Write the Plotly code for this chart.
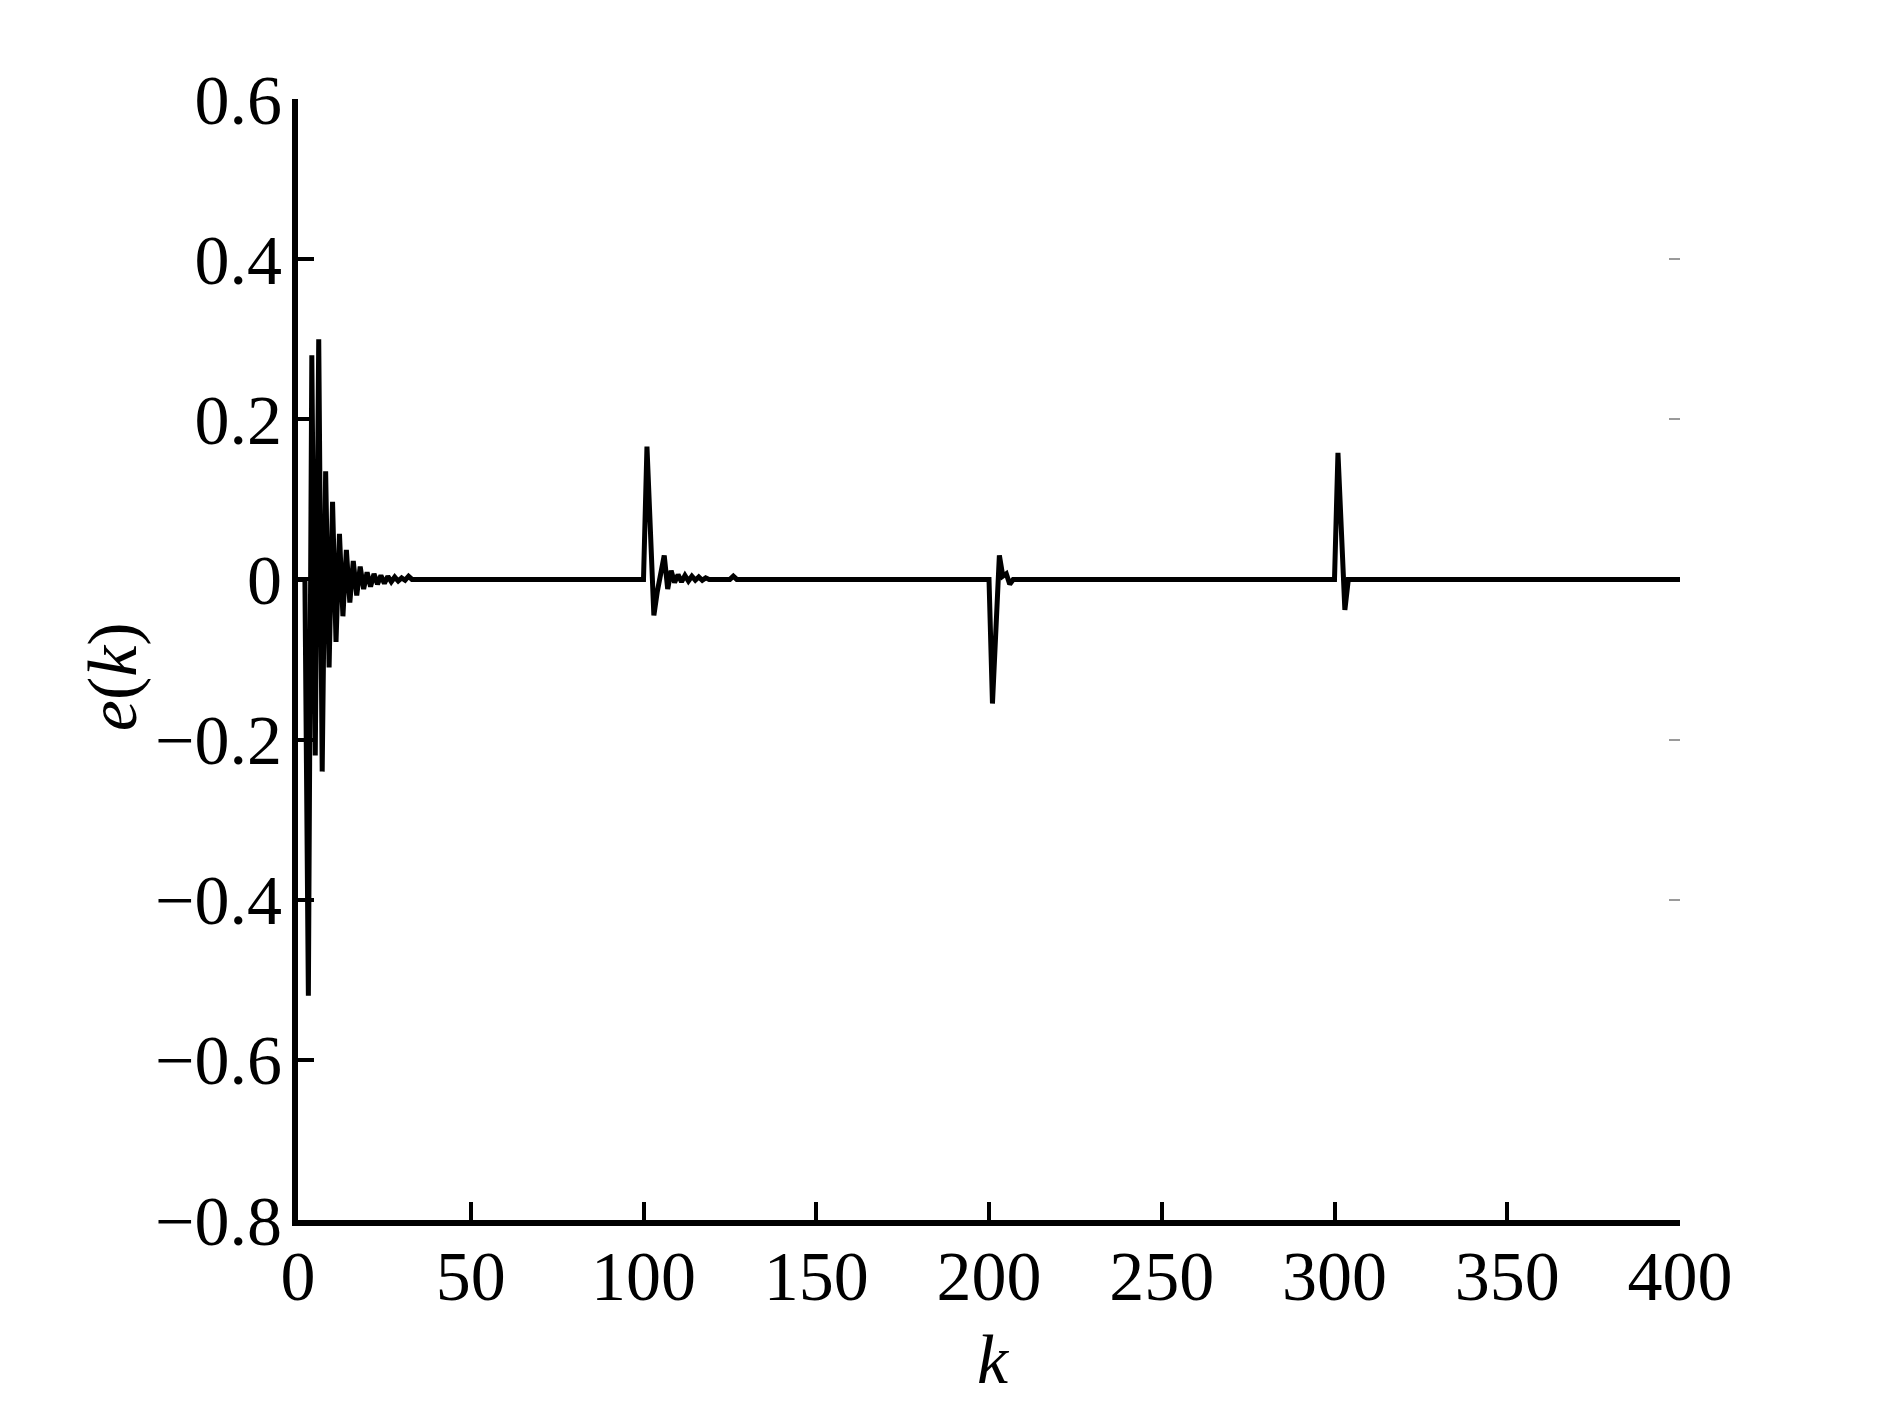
"""
plot.py

Tracking error e(k) over k = 0..400 (Plotly recreation)
"""

import plotly.graph_objects as go  # type: ignore[import-untyped]


# ---- data ----
# 초기 과도응답 구간 (k = 0 ~ 35)
k_start = [0, 2, 3, 4, 5, 6, 7, 8, 9, 10, 11, 12, 13, 14, 15, 16, 17, 18,
           19, 20, 21, 22, 23, 24, 25, 26, 27, 28, 29, 30, 31, 32, 33, 35]
e_start = [0.0, 0.0, -0.52, 0.28, -0.22, 0.30, -0.24, 0.135, -0.11, 0.097,
           -0.078, 0.057, -0.046, 0.037, -0.029, 0.023, -0.02, 0.016,
           -0.012, 0.009, -0.009, 0.007, -0.006, 0.005, -0.005, 0.004,
           -0.003, 0.003, -0.002, 0.002, -0.001, 0.004, 0.0, 0.0]

# k = 100 부근 외란
k_step1 = [99, 100, 101, 102, 103, 104, 105, 106, 107, 108, 109, 110, 111,
           112, 113, 114, 115, 116, 117, 118, 119, 125, 126, 127]
e_step1 = [0.0, 0.0, 0.166, 0.06, -0.045, -0.015, 0.012, 0.03, -0.012, 0.011,
           -0.004, 0.006, -0.003, 0.005, -0.002, 0.004, -0.001, 0.003,
           -0.001, 0.002, 0.0, 0.0, 0.004, 0.0]

# k = 200 부근 외란
k_step2 = [199, 200, 201, 202, 203, 204, 205, 206, 207]
e_step2 = [0.0, 0.0, -0.155, -0.06, 0.03, 0.004, 0.007, -0.006, 0.0]

# k = 300 부근 외란
k_step3 = [299, 300, 301, 302, 303, 304]
e_step3 = [0.0, 0.0, 0.158, 0.06, -0.038, 0.0]

k_end = [400]
e_end = [0.0]

x_ticks = [0, 50, 100, 150, 200, 250, 300, 350, 400]
y_ticks = [0.6, 0.4, 0.2, 0, -0.2, -0.4, -0.6, -0.8]
y_tick_text = ["0.6", "0.4", "0.2", "0", "\u22120.2", "\u22120.4", "\u22120.6", "\u22120.8"]
right_ticks = [0.4, 0.2, -0.2, -0.4]

FONT = "Liberation Serif, Times New Roman, serif"


def create_error_chart() -> go.Figure:
    """e(k) 오차 곡선 생성"""
    k = k_start + k_step1 + k_step2 + k_step3 + k_end
    e = e_start + e_step1 + e_step2 + e_step3 + e_end

    fig = go.Figure()
    fig.add_trace(go.Scatter(
        x=k,
        y=e,
        mode="lines",
        line=dict(color="black", width=5),
        showlegend=False,
        hoverinfo="skip",
    ))

    # 오른쪽의 희미한 눈금 (원본 이미지의 흔적)
    fig.add_trace(go.Scatter(
        x=[None], y=[None], yaxis="y2", showlegend=False, hoverinfo="skip",
    ))

    axis_common = dict(
        showgrid=False,
        zeroline=False,
        showline=True,
        linecolor="black",
        linewidth=6,
        ticks="inside",
        tickcolor="black",
        tickwidth=4,
        tickfont=dict(family=FONT, size=70, color="black"),
    )

    fig.update_layout(
        width=1890,
        height=1417,
        margin=dict(l=290, r=218, t=91, b=205),
        paper_bgcolor="white",
        plot_bgcolor="white",
        xaxis=dict(
            range=[0, 400],
            tickvals=x_ticks,
            ticklen=18,
            ticklabelstandoff=-10,
            **axis_common,
        ),
        yaxis=dict(
            range=[-0.8, 0.6],
            tickvals=y_ticks,
            ticktext=y_tick_text,
            ticklen=16,
            ticklabelstandoff=-4,
            **axis_common,
        ),
        yaxis2=dict(
            overlaying="y",
            side="right",
            range=[-0.8, 0.6],
            tickvals=right_ticks,
            showticklabels=False,
            showgrid=False,
            zeroline=False,
            showline=False,
            ticks="inside",
            ticklen=11,
            tickwidth=1.5,
            tickcolor="#9a9a9a",
        ),
        annotations=[
            dict(
                text="<i>e</i>(<i>k</i>)",
                x=-0.134, y=0.485, xref="paper", yref="paper",
                xanchor="center", yanchor="middle",
                textangle=-90, showarrow=False,
                font=dict(family=FONT, size=70, color="black"),
            ),
            dict(
                text="<i>k</i>",
                x=0.5036, y=-0.124, xref="paper", yref="paper",
                xanchor="center", yanchor="middle",
                showarrow=False,
                font=dict(family=FONT, size=70, color="black"),
            ),
        ],
    )

    return fig


if __name__ == "__main__":
    fig = create_error_chart()
    fig.write_html("out.html")
